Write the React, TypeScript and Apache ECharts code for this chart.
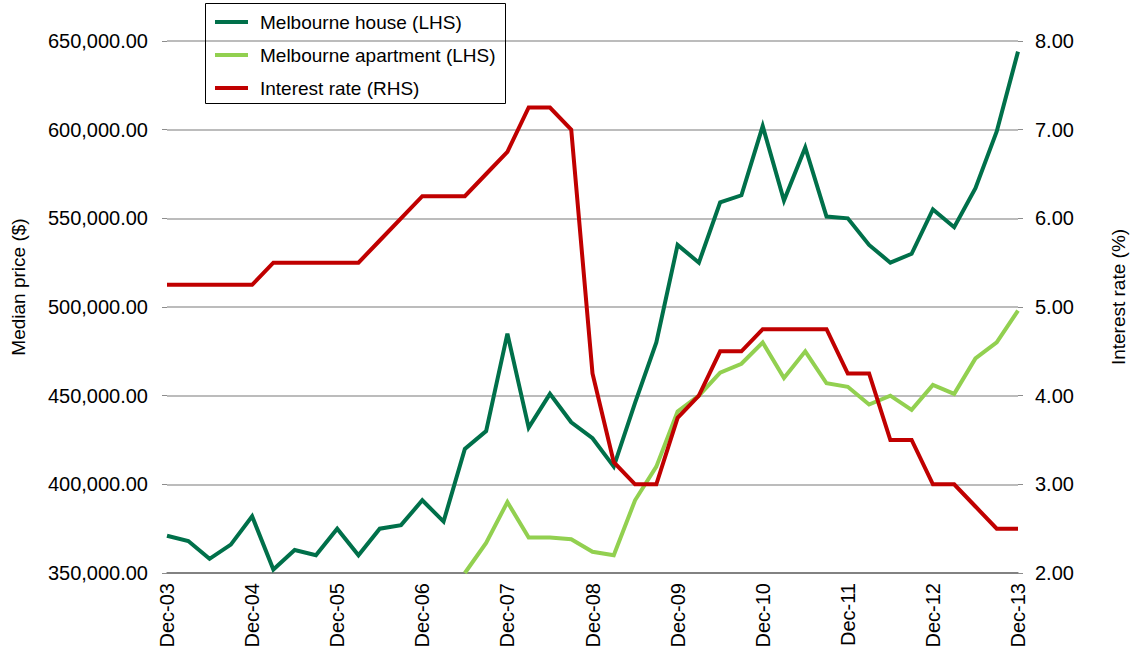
import React, { useEffect, useRef } from "react";
import * as echarts from "echarts";

const categories: string[] = [
  "Dec-03", "Mar-04", "Jun-04", "Sep-04",
  "Dec-04", "Mar-05", "Jun-05", "Sep-05",
  "Dec-05", "Mar-06", "Jun-06", "Sep-06",
  "Dec-06", "Mar-07", "Jun-07", "Sep-07",
  "Dec-07", "Mar-08", "Jun-08", "Sep-08",
  "Dec-08", "Mar-09", "Jun-09", "Sep-09",
  "Dec-09", "Mar-10", "Jun-10", "Sep-10",
  "Dec-10", "Mar-11", "Jun-11", "Sep-11",
  "Dec-11", "Mar-12", "Jun-12", "Sep-12",
  "Dec-12", "Mar-13", "Jun-13", "Sep-13",
  "Dec-13",
];

const houseValues: (number | null)[] = [
  371000, 368000, 358000, 366000,
  382000, 352000, 363000, 360000,
  375000, 360000, 375000, 377000,
  391000, 379000, 420000, 430000,
  485000, 432000, 451000, 435000,
  426000, 410000, 446000, 480000,
  535000, 525000, 559000, 563000,
  602000, 560000, 590000, 551000,
  550000, 535000, 525000, 530000,
  555000, 545000, 567000, 599000,
  644000,
];

const apartmentValues: (number | null)[] = [
  null, null, null, null,
  null, null, null, null,
  null, null, null, null,
  null, null, 350000, 367000,
  390000, 370000, 370000, 369000,
  362000, 360000, 391000, 410000,
  441000, 450000, 463000, 468000,
  480000, 460000, 475000, 457000,
  455000, 445000, 450000, 442000,
  456000, 451000, 471000, 480000,
  498000,
];

const interestValues: number[] = [
  5.25, 5.25, 5.25, 5.25,
  5.25, 5.5, 5.5, 5.5,
  5.5, 5.5, 5.75, 6.0,
  6.25, 6.25, 6.25, 6.5,
  6.75, 7.25, 7.25, 7.0,
  4.25, 3.25, 3.0, 3.0,
  3.75, 4.0, 4.5, 4.5,
  4.75, 4.75, 4.75, 4.75,
  4.25, 4.25, 3.5, 3.5,
  3.0, 3.0, 2.75, 2.5,
  2.5,
];

const seriesNames = ["Melbourne house (LHS)", "Melbourne apartment (LHS)", "Interest rate (RHS)"];
const seriesColors = ["#00704A", "#92D050", "#C00000"];
const leftAxisName = "Median price ($)";
const rightAxisName = "Interest rate (%)";

const FONT = "'Liberation Sans', Arial, sans-serif";

export default function App() {
  const ref = useRef<HTMLDivElement>(null);
  useEffect(() => {
    if (!ref.current) return;
    const chart = echarts.init(ref.current, undefined, { renderer: "svg" });
    const lineSeries = (name: string, data: (number | null)[], color: string, yAxisIndex: number) => ({
      name,
      type: "line",
      data,
      yAxisIndex,
      symbol: "none",
      showSymbol: false,
      connectNulls: false,
      clip: true,
      lineStyle: { color, width: 4, join: "miter" },
      itemStyle: { color },
    });
    chart.setOption({
      animation: false,
      textStyle: { fontFamily: FONT },
      grid: { left: 167, right: 113, top: 41, bottom: 84, containLabel: false },
      legend: {
        orient: "vertical",
        left: 205,
        top: 12,
        padding: [0, 0, 0, 10],
        itemGap: 13,
        itemWidth: 33,
        itemHeight: 4,
        icon: "rect",
        data: seriesNames,
        textStyle: { fontFamily: FONT, fontSize: 19, color: "#000", lineHeight: 20, padding: [0, 0, 0, 7] },
      },
      xAxis: {
        type: "category",
        data: categories,
        boundaryGap: false,
        axisLine: { show: true, lineStyle: { color: "#6f6f6f", width: 1.5 } },
        axisTick: { show: false },
        axisLabel: {
          interval: 3,
          rotate: 90,
          margin: 10,
          color: "#000",
          fontSize: 20,
          fontFamily: FONT,
        },
        splitLine: { show: false },
      },
      yAxis: [
        {
          type: "value",
          min: 350000,
          max: 650000,
          interval: 50000,
          position: "left",
          axisLine: { show: false },
          axisTick: { show: true, length: 5, lineStyle: { color: "#8c8c8c" } },
          axisLabel: {
            margin: 19,
            color: "#000",
            fontSize: 20,
            fontFamily: FONT,
            formatter: (v: number) =>
              v.toLocaleString("en-US", { minimumFractionDigits: 2, maximumFractionDigits: 2 }),
          },
          splitLine: { show: true, lineStyle: { color: "#a6a6a6", width: 1.5 } },
        },
        {
          type: "value",
          min: 2,
          max: 8,
          interval: 1,
          position: "right",
          axisLine: { show: false },
          axisTick: { show: true, length: 5, lineStyle: { color: "#8c8c8c" } },
          axisLabel: {
            margin: 17,
            color: "#000",
            fontSize: 20,
            fontFamily: FONT,
            formatter: (v: number) => v.toFixed(2),
          },
          splitLine: { show: false },
        },
      ],
      graphic: [
        {
          type: "rect",
          shape: { x: 205.5, y: 3.5, width: 300, height: 100 },
          style: { fill: "rgba(0,0,0,0)", stroke: "#000", lineWidth: 1 },
          z: 100,
        },
        {
          type: "text",
          x: 18,
          y: 287,
          rotation: Math.PI / 2,
          style: {
            text: leftAxisName,
            fontSize: 19,
            fontFamily: FONT,
            fill: "#000",
            align: "center",
            verticalAlign: "middle",
          },
        },
        {
          type: "text",
          x: 1118,
          y: 297,
          rotation: Math.PI / 2,
          style: {
            text: rightAxisName,
            fontSize: 19,
            fontFamily: FONT,
            fill: "#000",
            align: "center",
            verticalAlign: "middle",
          },
        },
      ],
      series: [
        lineSeries(seriesNames[0], houseValues, seriesColors[0], 0),
        lineSeries(seriesNames[1], apartmentValues, seriesColors[1], 0),
        lineSeries(seriesNames[2], interestValues, seriesColors[2], 1),
      ],
    });
    return () => chart.dispose();
  }, []);
  return (
    <div
      ref={ref}
      style={{ position: "absolute", left: 0, top: 0, width: 1131, height: 657, background: "#fff" }}
    />
  );
}
